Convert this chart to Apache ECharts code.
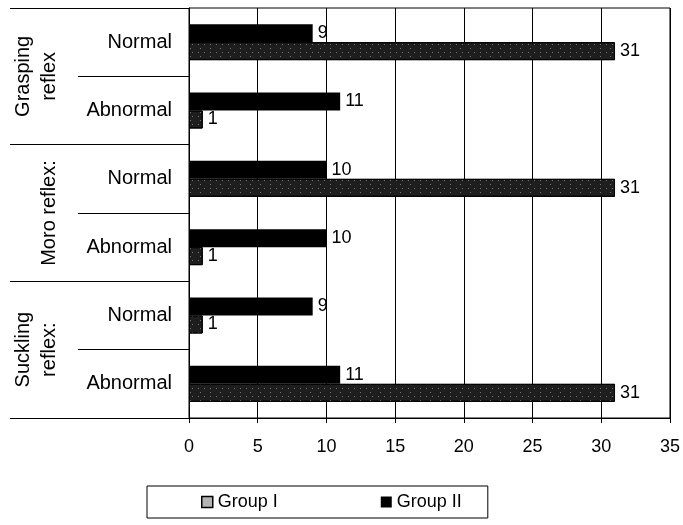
<!DOCTYPE html>
<html>
<head>
<meta charset="utf-8">
<script src="https://cdn.jsdelivr.net/npm/echarts@6/dist/echarts.min.js"></script>
<style>
  html, body { margin: 0; padding: 0; background: #fff; }
  #chart { width: 683px; height: 525px; }
</style>
</head>
<body>
<div id="chart"></div>
<script>
// Neonatal reflexes by group
const rowLabels = ['Normal', 'Abnormal', 'Normal', 'Abnormal', 'Normal', 'Abnormal'];
const reflexLabels = ['Grasping\nreflex', 'Moro reflex:', 'Suckling\nreflex:'];
const groupNames = ['Group I', 'Group II'];
const groupI = [31, 1, 31, 1, 1, 31];
const groupII = [9, 11, 10, 10, 9, 11];
const xTicks = { min: 0, max: 35, interval: 5 };

const FONT = 'Liberation Sans, Arial, sans-serif';
const chart = echarts.init(document.getElementById('chart'), null, { renderer: 'canvas' });

const valueLabel = {
  show: true,
  position: 'right',
  distance: 5,
  color: '#000',
  fontFamily: FONT,
  fontSize: 18
};

chart.setOption({
  animation: false,
  backgroundColor: '#fff',
  grid: {
    left: 189, right: 13, top: 8, bottom: 107,
    show: true, borderColor: '#000', borderWidth: 1
  },
  legend: {
    data: [
      {
        name: groupNames[0],
        itemStyle: { color: '#b4b4b4', borderColor: '#000', borderWidth: 1.5, decal: 'none' }
      },
      { name: groupNames[1] }
    ],
    icon: 'rect',
    left: 147, top: 486,
    orient: 'horizontal',
    itemWidth: 11, itemHeight: 11, itemGap: 103,
    padding: [7, 26, 7, 54],
    borderColor: '#000', borderWidth: 1,
    textStyle: { fontFamily: FONT, fontSize: 18, color: '#000' }
  },
  xAxis: {
    type: 'value',
    min: xTicks.min, max: xTicks.max, interval: xTicks.interval,
    axisLine: { show: true, lineStyle: { color: '#000', width: 1 } },
    axisTick: { show: true, length: 5, lineStyle: { color: '#000' } },
    axisLabel: { margin: 20, color: '#000', fontFamily: FONT, fontSize: 18 },
    splitLine: { show: true, lineStyle: { color: '#000', width: 1 } }
  },
  yAxis: [
    {
      type: 'category',
      inverse: true,
      data: rowLabels,
      axisLine: { show: true, lineStyle: { color: '#000', width: 1 } },
      axisTick: { show: true, interval: 0, length: 111, lineStyle: { color: '#000' } },
      axisLabel: { interval: 0, margin: 17, color: '#000', fontFamily: FONT, fontSize: 20 }
    },
    {
      type: 'category',
      inverse: true,
      position: 'left',
      offset: 0,
      data: reflexLabels,
      axisLine: { show: false },
      axisTick: { show: true, interval: 0, length: 179, lineStyle: { color: '#000' } },
      axisLabel: {
        interval: 0, rotate: 90, margin: 127, color: '#000',
        fontFamily: FONT, fontSize: 20, lineHeight: 26
      },
      splitLine: { show: false }
    }
  ],
  series: [
    {
      // drawn first so that it sits above Group I in each row
      name: groupNames[1],
      type: 'bar',
      data: groupII,
      barWidth: 18,
      barGap: '0%',
      itemStyle: { color: '#000' },
      label: valueLabel
    },
    {
      name: groupNames[0],
      type: 'bar',
      data: groupI,
      barWidth: 18,
      barGap: '0%',
      itemStyle: {
        color: '#1e1e1e',
        borderColor: '#000',
        borderWidth: 1,
        decal: {
          symbol: 'rect',
          symbolSize: 1,
          color: 'rgba(220,220,220,0.45)',
          dashArrayX: [[1, 5], [1, 9]],
          dashArrayY: [1, 3],
          rotation: 0
        }
      },
      label: valueLabel
    }
  ]
});
</script>
</body>
</html>
